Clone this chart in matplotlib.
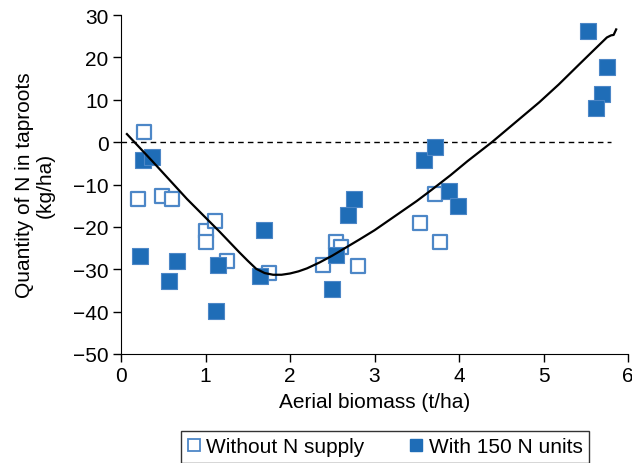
import matplotlib
matplotlib.use("Agg")
import matplotlib.pyplot as plt
from matplotlib.lines import Line2D

plt.rcParams["font.family"] = ["Liberation Sans", "DejaVu Sans"]
plt.rcParams["font.size"] = 15

# -------------------------------
# data
# -------------------------------
x_without = [0.27, 0.20, 0.48, 0.60, 1.00, 1.00, 1.11, 1.25, 1.75,
             2.39, 2.55, 2.60, 2.80, 3.54, 3.72, 3.77]
y_without = [2.3, -13.4, -12.7, -13.4, -21.0, -23.6, -18.6, -28.0, -31.0,
             -29.0, -23.6, -24.8, -29.3, -19.0, -12.2, -23.6]

x_with = [0.26, 0.37, 0.22, 0.57, 0.66, 1.15, 1.13, 1.69, 1.65,
          2.50, 2.55, 2.69, 2.76, 3.59, 3.72, 3.88, 3.99,
          5.53, 5.75, 5.69, 5.62]
y_with = [-4.2, -3.5, -26.9, -32.8, -28.0, -29.0, -39.8, -20.8, -31.5,
          -34.7, -26.7, -17.2, -13.4, -4.2, -1.2, -11.5, -15.0,
          26.2, 17.7, 11.3, 8.0]

# fitted curve
x_fit = [0.07, 0.38, 0.78, 1.17, 1.40, 1.50, 1.60, 1.70, 1.80, 1.90, 2.00,
         2.10, 2.20, 2.35, 2.50, 2.82, 3.00, 3.29, 3.50, 3.68, 3.90, 4.10,
         4.39, 4.67, 4.95, 5.18, 5.42, 5.60, 5.75, 5.80, 5.83, 5.86]
y_fit = [1.9, -4.7, -13.4, -21.2, -26.0, -28.0, -29.9, -30.9, -31.3, -31.3, -31.0,
         -30.5, -29.8, -28.4, -26.8, -23.0, -20.8, -16.8, -13.9, -11.2, -7.8, -4.5,
         0.0, 4.7, 9.4, 13.6, 18.3, 21.8, 24.7, 25.2, 25.3, 26.6]

xticks = [0, 1, 2, 3, 4, 5, 6]
yticks = [30, 20, 10, 0, -10, -20, -30, -40, -50]

fill_col = "#1f6db7"
edge_col = "#4d87c7"

fig = plt.figure(figsize=(6.32, 4.64), dpi=100)
ax = fig.add_axes([121 / 632, 1 - 355 / 464, 507 / 632, 339 / 464])

ax.hlines(0, 0, 5.8, colors="black", linestyles=(0, (4, 3)), linewidth=1.0, zorder=1)

ax.scatter(x_without, y_without, marker="s", s=110, facecolors="white",
           edgecolors=edge_col, linewidths=1.6, zorder=2)
ax.scatter(x_with, y_with, marker="s", s=130, facecolors=fill_col,
           edgecolors=edge_col, linewidths=0.8, zorder=3)

ax.plot(x_fit, y_fit, color="black", linewidth=1.6, zorder=4)

ax.set_xlim(0, 6)
ax.set_ylim(-50, 30)
ax.set_xticks(xticks)
ax.set_yticks(yticks)
ax.set_yticklabels([str(v).replace("-", "\u2212") for v in yticks])
ax.spines["top"].set_visible(False)
ax.spines["right"].set_visible(False)
ax.tick_params(direction="out", length=6, width=1, pad=3)

ax.set_xlabel("Aerial biomass (t/ha)", labelpad=5)
ax.set_ylabel("Quantity of N in taproots\n(kg/ha)", labelpad=13, linespacing=1.15)

handles = [
    Line2D([], [], marker="s", linestyle="none", markersize=9,
           markerfacecolor="white", markeredgecolor=edge_col, markeredgewidth=1.3),
    Line2D([], [], marker="s", linestyle="none", markersize=9,
           markerfacecolor=fill_col, markeredgecolor=fill_col),
]
leg = fig.legend(handles, ["Without N supply", "With 150 N units"],
                 loc="upper center", bbox_to_anchor=(385 / 632, 1 - 432 / 464),
                 ncol=2, frameon=True, fancybox=False, edgecolor="black",
                 handletextpad=0.3, columnspacing=2.2, handlelength=0.6,
                 borderpad=0.3, borderaxespad=0, fontsize=15)
leg.get_frame().set_linewidth(1.0)

fig.savefig("out.png", dpi=100)
